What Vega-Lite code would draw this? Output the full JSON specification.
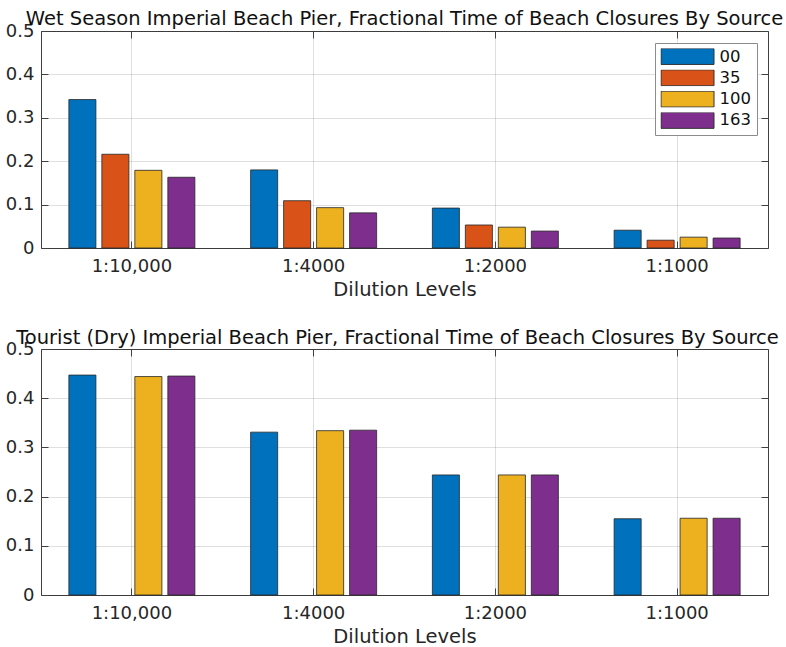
{
  "$schema": "https://vega.github.io/schema/vega-lite/v6.json",
  "background": "white",
  "padding": {"left": 4, "top": 8, "right": 5, "bottom": 5},
  "config": {
    "font": "DejaVu Sans",
    "view": {"stroke": "#404040", "strokeWidth": 1},
    "axis": {
      "labelFontSize": 18,
      "labelColor": "#262626",
      "titleFontSize": 19.5,
      "titleFontWeight": "normal",
      "titleColor": "#262626",
      "domain": false,
      "tickColor": "#404040",
      "tickSize": -7,
      "gridColor": "#262626",
      "gridOpacity": 0.15,
      "labelPadding": 14
    },
    "title": {"fontSize": 19.5, "fontWeight": "normal", "color": "#111111", "anchor": "middle", "baseline": "alphabetic", "offset": -7}
  },
  "data": {
    "values": [
      {"panel": "wet", "dilution": "1:10,000", "source": "00", "value": 0.342},
      {"panel": "wet", "dilution": "1:10,000", "source": "35", "value": 0.216},
      {"panel": "wet", "dilution": "1:10,000", "source": "100", "value": 0.179},
      {"panel": "wet", "dilution": "1:10,000", "source": "163", "value": 0.163},
      {"panel": "wet", "dilution": "1:4000", "source": "00", "value": 0.180},
      {"panel": "wet", "dilution": "1:4000", "source": "35", "value": 0.109},
      {"panel": "wet", "dilution": "1:4000", "source": "100", "value": 0.093},
      {"panel": "wet", "dilution": "1:4000", "source": "163", "value": 0.081},
      {"panel": "wet", "dilution": "1:2000", "source": "00", "value": 0.092},
      {"panel": "wet", "dilution": "1:2000", "source": "35", "value": 0.053},
      {"panel": "wet", "dilution": "1:2000", "source": "100", "value": 0.048},
      {"panel": "wet", "dilution": "1:2000", "source": "163", "value": 0.039},
      {"panel": "wet", "dilution": "1:1000", "source": "00", "value": 0.041},
      {"panel": "wet", "dilution": "1:1000", "source": "35", "value": 0.018},
      {"panel": "wet", "dilution": "1:1000", "source": "100", "value": 0.025},
      {"panel": "wet", "dilution": "1:1000", "source": "163", "value": 0.023},
      {"panel": "dry", "dilution": "1:10,000", "source": "00", "value": 0.447},
      {"panel": "dry", "dilution": "1:10,000", "source": "100", "value": 0.444},
      {"panel": "dry", "dilution": "1:10,000", "source": "163", "value": 0.445},
      {"panel": "dry", "dilution": "1:4000", "source": "00", "value": 0.331},
      {"panel": "dry", "dilution": "1:4000", "source": "100", "value": 0.334},
      {"panel": "dry", "dilution": "1:4000", "source": "163", "value": 0.335},
      {"panel": "dry", "dilution": "1:2000", "source": "00", "value": 0.244},
      {"panel": "dry", "dilution": "1:2000", "source": "100", "value": 0.244},
      {"panel": "dry", "dilution": "1:2000", "source": "163", "value": 0.244},
      {"panel": "dry", "dilution": "1:1000", "source": "00", "value": 0.155},
      {"panel": "dry", "dilution": "1:1000", "source": "100", "value": 0.156},
      {"panel": "dry", "dilution": "1:1000", "source": "163", "value": 0.156}
    ]
  },
  "resolve": {"scale": {"color": "independent"}, "legend": {"color": "independent"}},
  "spacing": 28,
  "vconcat": [
    {
      "title": {"text": "Wet Season Imperial Beach Pier, Fractional Time of Beach Closures By Source"},
      "transform": [{"filter": "datum.panel == 'wet'"}],
      "width": 727,
      "height": 217,
      "resolve": {"axis": {"x": "independent", "y": "independent"}},
      "layer": [
        {
          "mark": {"type": "bar", "stroke": "#262626", "strokeWidth": 0.8},
          "encoding": {
            "x": {"field": "dilution", "type": "nominal", "sort": ["1:10,000", "1:4000", "1:2000", "1:1000"],
                  "scale": {"paddingInner": 0, "paddingOuter": 0},
                  "axis": {"title": "Dilution Levels", "labelAngle": 0, "grid": true, "labelPadding": 16, "titlePadding": 5}},
            "xOffset": {"field": "source", "type": "nominal", "sort": ["00", "35", "100", "163"],
                        "scale": {"domain": ["00", "35", "100", "163"], "paddingInner": 0.18, "paddingOuter": 0.845}},
            "y": {"field": "value", "type": "quantitative",
                  "scale": {"domain": [0, 0.5], "nice": false},
                  "axis": {"title": null, "values": [0, 0.1, 0.2, 0.3, 0.4, 0.5], "format": "~g", "grid": true}},
            "color": {"field": "source", "type": "nominal", "sort": ["00", "35", "100", "163"],
                      "scale": {"domain": ["00", "35", "100", "163"], "range": ["#0072BD", "#D95319", "#EDB120", "#7E2F8E"]},
                      "legend": {
                        "title": null, "orient": "none", "legendX": 614, "legendY": 12,
                        "direction": "vertical",
                        "symbolType": "M-1,-0.3L1,-0.3L1,0.3L-1,0.3Z",
                        "symbolSize": 2809,
                        "symbolStrokeColor": "#333333",
                        "symbolStrokeWidth": 1,
                        "symbolOpacity": 1,
                        "clipHeight": 16,
                        "labelFontSize": 16.5,
                        "labelColor": "#111111",
                        "labelOffset": 5,
                        "rowPadding": 4.3,
                        "padding": 5.5,
                        "strokeColor": "#8c8c8c",
                        "fillColor": "white"
                      }}
          }
        },
        {
          "mark": {"type": "bar", "opacity": 0},
          "encoding": {
            "x": {"field": "dilution", "type": "nominal", "sort": ["1:10,000", "1:4000", "1:2000", "1:1000"],
                  "axis": {"orient": "top", "title": null, "labels": false, "grid": false}},
            "xOffset": {"field": "source", "type": "nominal", "sort": ["00", "35", "100", "163"]},
            "y": {"field": "value", "type": "quantitative",
                  "axis": {"orient": "right", "title": null, "labels": false, "grid": false, "values": [0, 0.1, 0.2, 0.3, 0.4, 0.5]}}
          }
        }
      ]
    },
    {
      "title": {"text": "Tourist (Dry) Imperial Beach Pier, Fractional Time of Beach Closures By Source", "dx": -7, "offset": -8},
      "transform": [{"filter": "datum.panel == 'dry'"}],
      "width": 727,
      "height": 246,
      "resolve": {"axis": {"x": "independent", "y": "independent"}},
      "layer": [
        {
          "mark": {"type": "bar", "stroke": "#262626", "strokeWidth": 0.8},
          "encoding": {
            "x": {"field": "dilution", "type": "nominal", "sort": ["1:10,000", "1:4000", "1:2000", "1:1000"],
                  "scale": {"paddingInner": 0, "paddingOuter": 0},
                  "axis": {"title": "Dilution Levels", "labelAngle": 0, "grid": true, "labelPadding": 16, "titlePadding": 5}},
            "xOffset": {"field": "source", "type": "nominal", "sort": ["00", "35", "100", "163"],
                        "scale": {"domain": ["00", "35", "100", "163"], "paddingInner": 0.18, "paddingOuter": 0.845}},
            "y": {"field": "value", "type": "quantitative",
                  "scale": {"domain": [0, 0.5], "nice": false},
                  "axis": {"title": null, "values": [0, 0.1, 0.2, 0.3, 0.4, 0.5], "format": "~g", "grid": true}},
            "color": {"field": "source", "type": "nominal",
                      "scale": {"domain": ["00", "35", "100", "163"], "range": ["#0072BD", "#D95319", "#EDB120", "#7E2F8E"]},
                      "legend": null}
          }
        },
        {
          "mark": {"type": "bar", "opacity": 0},
          "encoding": {
            "x": {"field": "dilution", "type": "nominal", "sort": ["1:10,000", "1:4000", "1:2000", "1:1000"],
                  "axis": {"orient": "top", "title": null, "labels": false, "grid": false}},
            "xOffset": {"field": "source", "type": "nominal", "sort": ["00", "35", "100", "163"]},
            "y": {"field": "value", "type": "quantitative",
                  "axis": {"orient": "right", "title": null, "labels": false, "grid": false, "values": [0, 0.1, 0.2, 0.3, 0.4, 0.5]}}
          }
        }
      ]
    }
  ]
}
